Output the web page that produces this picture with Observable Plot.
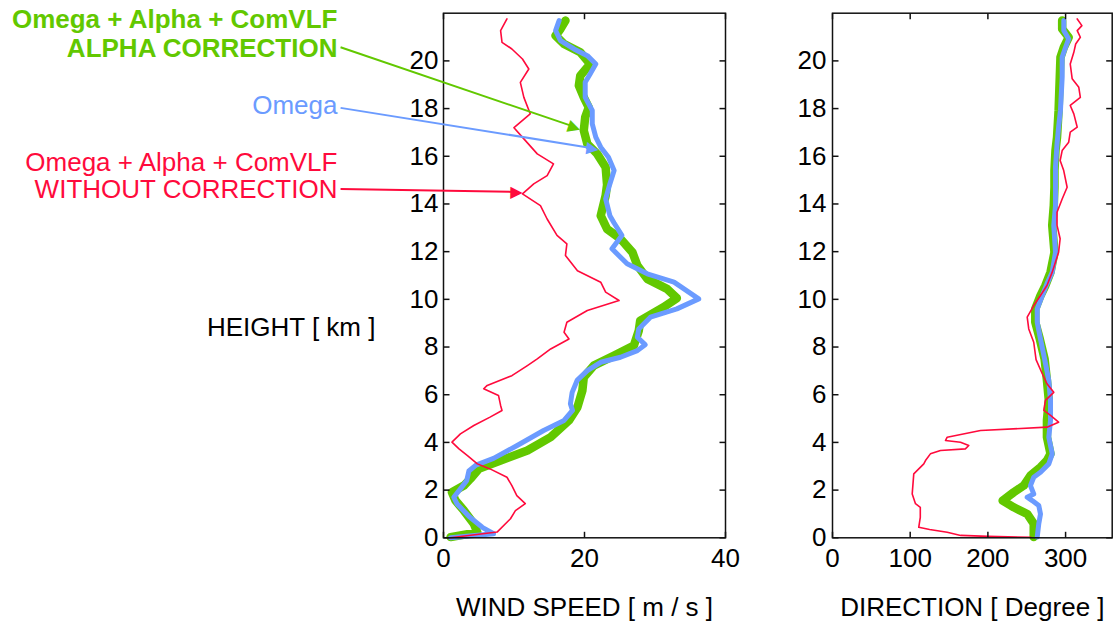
<!DOCTYPE html>
<html>
<head>
<meta charset="utf-8">
<script src="https://cdn.jsdelivr.net/npm/d3@7"></script>
<script src="https://cdn.jsdelivr.net/npm/@observablehq/plot@0.6"></script>
<style>
  body { margin: 0; background: #fff; }
  #chart { position: relative; width: 1113px; height: 628px; overflow: hidden; }
  #chart svg { position: absolute; top: 0; }
</style>
</head>
<body>
<div id="chart"></div>
<script>
// Wind profile from a radiosonde: [value, height km] pairs, bottom to top.
const heightTicks = [0, 2, 4, 6, 8, 10, 12, 14, 16, 18, 20];
const speedTicks = [0, 20, 40];
const directionTicks = [0, 100, 200, 300];

// Wind speed [m/s]
const speedCorrected = [
  [1.0,0.03],[4.8,0.23],[4.3,0.59],[2.9,1.14],[1.7,1.56],[1.2,1.91],[2.9,2.19],[3.8,2.47],
  [5.0,2.89],[8.1,3.24],[11.9,3.66],[15.2,4.22],[17.8,4.92],[19.0,5.48],[19.7,6.18],[19.9,6.73],
  [21.3,7.22],[24.2,7.64],[27.0,8.06],[27.7,8.69],[27.9,9.11],[31.2,9.67],[33.1,10.05],[31.7,10.44],
  [28.9,10.86],[27.5,11.42],[26.8,11.97],[25.1,12.54],[23.2,12.95],[22.3,13.51],[23.0,14.35],[23.2,14.8],
  [23.0,15.54],[21.8,16.1],[20.4,16.52],[19.9,17.08],[20.1,17.64],[20.6,18.05],[19.9,18.47],[19.2,18.96],
  [19.4,19.38],[20.8,19.87],[19.4,20.36],[17.1,20.71],[15.9,21.06],[16.6,21.34],[17.3,21.69]
];
const speedOmega = [
  [1.0,0.0],[7.1,0.17],[5.5,0.44],[3.6,0.9],[1.9,1.43],[1.46,1.7],[2.4,2.05],[3.3,2.4],
  [3.6,2.8],[4.6,3.05],[7.1,3.33],[10.45,3.87],[14.2,4.5],[17.1,4.92],[18.3,5.34],[18.0,5.62],
  [18.25,6.1],[18.95,6.6],[20.4,7.01],[22.3,7.36],[25.1,7.57],[27.5,7.85],[28.6,8.1],[27.5,8.41],
  [27.7,8.76],[29.35,9.25],[33.1,9.6],[36.2,10.02],[32.7,10.72],[28.9,11.07],[26.05,11.49],[23.9,12.12],
  [25.3,12.68],[24.2,13.2],[23.6,13.51],[23.0,14.21],[23.4,14.63],[23.6,14.84],[24.2,15.4],[23.4,15.96],
  [22.3,16.38],[21.6,16.8],[21.1,17.36],[21.1,17.92],[20.1,18.47],[20.1,19.1],[20.8,19.45],[21.6,19.87],
  [20.4,20.22],[18.5,20.5],[16.6,20.85],[15.9,21.27],[16.4,21.69]
];
const speedUncorrected = [
  [1.0,0.0],[7.6,0.24],[9.5,0.8],[10.2,1.14],[11.6,1.43],[10.4,1.77],[9.7,2.19],[9.0,2.54],
  [6.6,2.89],[4.8,3.1],[3.4,3.45],[2.2,3.73],[1.2,4.01],[2.4,4.36],[4.3,4.71],[6.6,5.06],
  [8.3,5.34],[8.1,5.55],[7.8,5.97],[5.7,6.25],[6.2,6.39],[9.7,6.8],[11.9,7.22],[13.3,7.5],
  [15.2,7.92],[17.8,8.34],[17.1,8.62],[17.5,9.04],[20.4,9.53],[24.9,9.95],[23.0,10.3],[22.3,10.72],
  [19.0,11.2],[17.3,11.84],[17.5,12.33],[16.1,12.68],[14.7,13.37],[13.75,13.93],[11.2,14.42],[12.8,14.84],
  [14.7,15.19],[15.6,15.68],[13.3,16.1],[11.4,16.73],[10.0,17.2],[12.3,17.78],[11.4,18.47],[10.9,19.1],
  [12.1,19.66],[11.2,20.08],[9.7,20.5],[8.3,20.78],[8.1,21.27],[9.0,21.76]
];

// Wind direction [degree]
const directionCorrected = [
  [259,0.03],[259,0.59],[250.6,1.0],[233.3,1.28],[219,1.56],[233.3,1.91],[246.2,2.19],[254.8,2.61],
  [267.7,2.96],[276,3.24],[280.6,3.52],[276,4.22],[276,4.92],[278.4,5.76],[276,6.6],[273,7.5],
  [266.8,8.34],[261,9.04],[261,9.6],[267.7,10.16],[274,10.58],[280.6,11.14],[285.7,11.97],[282.8,13.1],
  [284.8,13.93],[285.7,14.7],[285.7,15.4],[287,16.24],[289,16.8],[291,17.92],[292.5,19.31],[293.4,20.15],
  [297.7,20.57],[304,20.99],[295.6,21.34],[295.6,21.69]
];
const directionOmega = [
  [263.5,0.03],[265.5,0.59],[267.7,1.0],[265.5,1.35],[257,1.56],[250.6,1.7],[259,1.84],[254.8,2.19],
  [259,2.54],[267.7,2.75],[278.4,3.1],[282.8,3.52],[278.4,4.22],[280.6,4.92],[280.6,5.76],[278.4,6.6],
  [273,7.5],[267.7,8.34],[263.5,9.04],[263.5,9.6],[270,10.16],[276,10.65],[282.8,11.14],[287,11.97],
  [284.8,13.1],[287,13.93],[287,14.7],[287,15.54],[289,16.52],[291,17.22],[293.4,17.92],[295.6,19.31],
  [295.6,20.15],[300,20.57],[304,20.92],[297.7,21.27],[297.7,21.69]
];
const directionUncorrected = [
  [255,0.02],[200,0.06],[165,0.1],[147.6,0.23],[125,0.35],[111,0.44],[113,0.86],[113,1.28],
  [106.8,1.43],[102.6,1.84],[104.6,2.68],[117.5,3.1],[119.7,3.24],[126,3.52],[139,3.66],[171,3.73],
  [175.4,3.87],[164.7,4.01],[145.4,4.08],[147.6,4.22],[190.5,4.5],[276,4.64],[291,4.85],[280.6,5.13],
  [272,5.34],[274,5.76],[284.8,6.1],[276,6.46],[270,6.88],[262,7.47],[259,8.2],[252.6,8.76],
  [250.6,9.25],[259,9.74],[267.7,10.16],[276,10.58],[282.8,11.14],[291,11.97],[293,12.54],[289,13.1],
  [289,13.65],[295.6,14.21],[302,14.7],[297.6,15.4],[293,15.82],[295.6,16.24],[304,16.59],[306,17.01],
  [315,17.22],[310.6,17.78],[306,18.13],[319,18.47],[317,18.89],[308.5,19.25],[306,19.87],[310.6,20.36],
  [313,20.71],[319,20.99],[315,21.27],[321,21.48],[315,21.76]
];

// Callout labels: text lines, where the lines sit and where the arrow points (speed, height)
const callouts = [
  {series: "corrected", lines: ["Omega + Alpha + ComVLF", "ALPHA CORRECTION"], heights: [21.71, 20.52], from: [-14.6, 20.57], to: [19.4, 17.15]},
  {series: "omega", lines: ["Omega"], heights: [18.13], from: [-14.6, 18.03], to: [22.0, 16.3]},
  {series: "uncorrected", lines: ["Omega + Alpha + ComVLF", "WITHOUT CORRECTION"], heights: [15.74, 14.58], from: [-14.6, 14.63], to: [11.2, 14.5]}
];
const labelSpeed = -15.04;

const colors = {corrected: "#62c800", omega: "#6b9bff", uncorrected: "#ff0a3c"};
const widths = {corrected: 8.5, omega: 5, uncorrected: 1.6};
const fontFamily = '"Liberation Sans", Arial, Helvetica, sans-serif';

// Shared layout
const H = 628, MT = 12.7, MB = 90.7, TICK = 6, HMAX = 22;
const plotH = H - MT - MB;

function seriesMarks(sets) {
  return ["corrected", "omega", "uncorrected"].map(k =>
    Plot.line(sets[k], {
      x: d => d[0], y: d => d[1],
      stroke: colors[k], strokeWidth: widths[k],
      strokeLinejoin: "round", strokeLinecap: "round"
    }));
}

// Frame and inward tick marks on all four sides
function frameMarks(xMax, xTicks, kx, ky) {
  const tx = TICK / kx, ty = TICK / ky;
  return [
    Plot.link(heightTicks, {x1: 0, x2: tx, y1: d => d, y2: d => d, stroke: "#111", strokeWidth: 1.5}),
    Plot.link(heightTicks, {x1: xMax - tx, x2: xMax, y1: d => d, y2: d => d, stroke: "#111", strokeWidth: 1.5}),
    Plot.link(xTicks, {x1: d => d, x2: d => d, y1: 0, y2: ty, stroke: "#111", strokeWidth: 1.5}),
    Plot.link(xTicks, {x1: d => d, x2: d => d, y1: HMAX - ty, y2: HMAX, stroke: "#111", strokeWidth: 1.5}),
    Plot.frame({stroke: "#111", strokeWidth: 1.5})
  ];
}

// ---- Wind speed panel (also carries the callouts and the height label) ----
const W1 = 760, ML1 = 443, MR1 = 35;
const kx1 = (W1 - ML1 - MR1) / 40, ky = plotH / HMAX;

const calloutMarks = callouts.flatMap(c => {
  const color = colors[c.series];
  const bold = c.series === "corrected";
  const dxp = (c.to[0] - c.from[0]) * kx1;
  const dyp = -(c.to[1] - c.from[1]) * ky;
  const len = Math.hypot(dxp, dyp);
  const ux = dxp / len, uy = dyp / len;
  const angle = Math.atan2(dyp, dxp) * 180 / Math.PI;
  const back = 6; // half the arrowhead length, px
  const head = [c.to[0] - back * ux / kx1, c.to[1] + back * uy / ky];
  const rows = c.lines.map((t, i) => ({t, h: c.heights[i]}));
  return [
    Plot.text(rows, {
      x: labelSpeed, y: "h", text: "t", textAnchor: "end",
      fill: color, fontWeight: bold ? "bold" : "normal", fontSize: 26, fontFamily
    }),
    Plot.link([c], {
      x1: c.from[0], y1: c.from[1], x2: head[0], y2: head[1],
      stroke: color, strokeWidth: 2
    }),
    Plot.text([c], {
      x: head[0], y: head[1], text: () => "\u25B6", rotate: angle,
      fill: color, fontSize: 16, fontFamily: '"DejaVu Sans", sans-serif'
    })
  ];
});

const speedPlot = Plot.plot({
  width: W1, height: H,
  marginLeft: ML1, marginRight: MR1, marginTop: MT, marginBottom: MB,
  style: {fontSize: "26px", fontFamily, color: "#000", background: "transparent", overflow: "visible"},
  x: {domain: [0, 40], ticks: speedTicks, tickSize: 0, tickPadding: 11, label: null},
  y: {domain: [0, HMAX], ticks: heightTicks, tickSize: 0, tickPadding: 5, label: null},
  marks: [
    ...seriesMarks({corrected: speedCorrected, omega: speedOmega, uncorrected: speedUncorrected}),
    ...frameMarks(40, speedTicks, kx1, ky),
    ...calloutMarks,
    Plot.text(["HEIGHT [ km ]"], {x: -9.65, y: 8.82, text: d => d, textAnchor: "end", fontSize: 26, fontFamily}),
    Plot.text(["WIND SPEED [ m / s ]"], {x: 20, frameAnchor: "bottom", dy: 78, text: d => d, fontSize: 26, fontFamily})
  ]
});
speedPlot.style.left = "0px";

// ---- Wind direction panel ----
const W2 = 353, ML2 = 72, MR2 = 1.3;
const kx2 = (W2 - ML2 - MR2) / 360;

const directionPlot = Plot.plot({
  width: W2, height: H,
  marginLeft: ML2, marginRight: MR2, marginTop: MT, marginBottom: MB,
  style: {fontSize: "26px", fontFamily, color: "#000", background: "transparent", overflow: "visible"},
  x: {domain: [0, 360], ticks: directionTicks, tickSize: 0, tickPadding: 11, label: null},
  y: {domain: [0, HMAX], ticks: heightTicks, tickSize: 0, tickPadding: 6, label: null},
  marks: [
    ...seriesMarks({corrected: directionCorrected, omega: directionOmega, uncorrected: directionUncorrected}),
    ...frameMarks(360, directionTicks, kx2, ky),
    Plot.text(["DIRECTION [ Degree ]"], {x: 180, frameAnchor: "bottom", dy: 78, text: d => d, fontSize: 26, fontFamily})
  ]
});
directionPlot.style.left = "760px";

const chart = document.getElementById("chart");
chart.append(speedPlot, directionPlot);
</script>
</body>
</html>
